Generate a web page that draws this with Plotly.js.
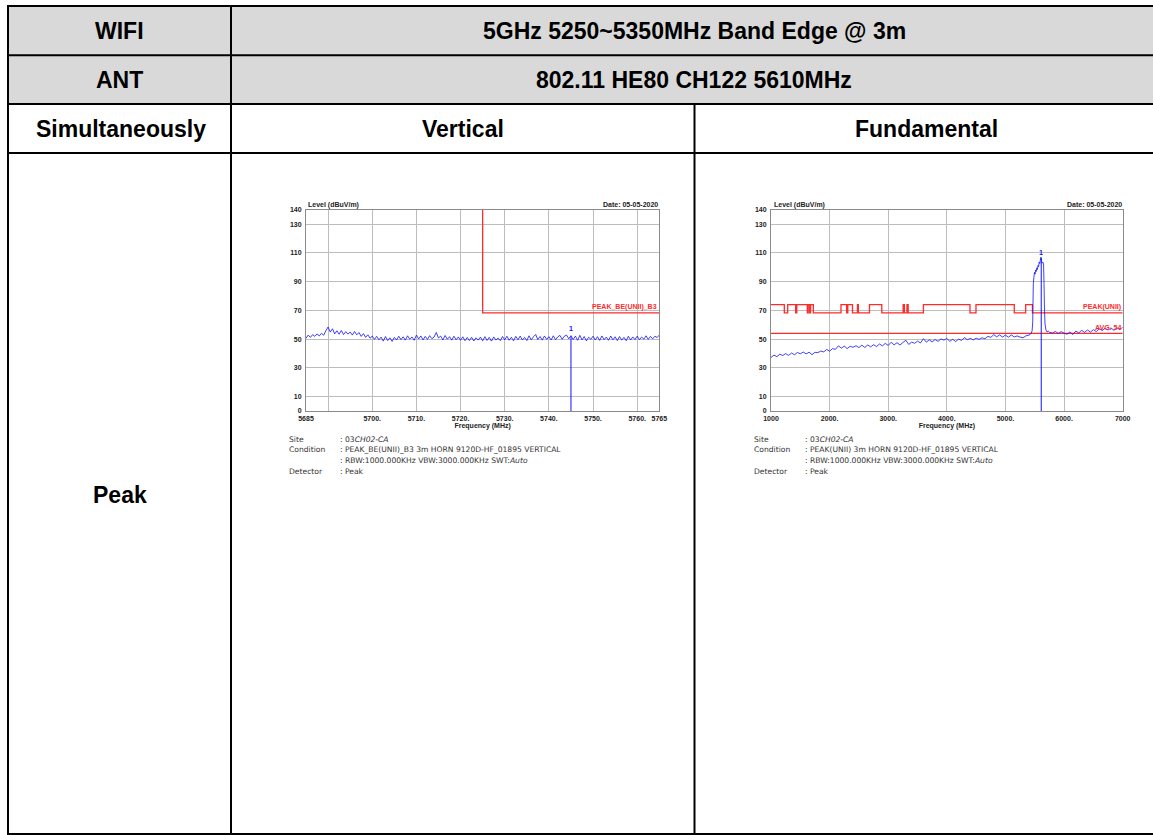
<!DOCTYPE html>
<html>
<head>
<meta charset="utf-8">
<script src="https://cdn.plot.ly/plotly-3.0.1.min.js"></script>
<style>
html,body{margin:0;padding:0;background:#fff;}
#chart{width:1153px;height:835px;}
</style>
</head>
<body>
<div id="chart"></div>
<script>
// ---------------- DATA ----------------
// Table texts
const headerRow1 = ["WIFI", "5GHz 5250~5350MHz Band Edge @ 3m"];
const headerRow2 = ["ANT", "802.11 HE80 CH122 5610MHz"];
const headerRow3 = ["Simultaneously", "Vertical", "Fundamental"];
const rowLabel = "Peak";

// Left plot (band edge sweep, 5685-5765 MHz, 0.5 MHz sweep points)
const leftStartFreq = 5685;
const leftStepFreq = 0.5;
const leftLevel = [
  50.6, 52.8, 51.2, 53.1, 51.9, 53.6, 52.2, 54.0, 52.7, 55.8,
  58.4, 54.9, 57.2, 53.6, 55.8, 53.4, 56.0, 53.1, 55.2, 53.5,
  54.9, 52.8, 55.3, 53.0, 54.6, 51.9, 53.8, 51.2, 53.0, 50.6,
  52.1, 49.8, 51.9, 49.6, 51.4, 48.6, 51.8, 49.0, 50.9, 48.4,
  51.2, 49.4, 52.0, 49.7, 51.6, 49.3, 52.3, 50.0, 51.5, 49.2,
  52.8, 50.1, 52.2, 49.5, 51.9, 49.8, 52.4, 50.3, 51.4, 54.6,
  50.8, 52.1, 49.4, 52.5, 49.9, 51.7, 49.3, 52.0, 49.6, 51.5,
  49.2, 51.6, 48.9, 51.1, 49.0, 51.3, 48.7, 50.9, 49.3, 51.4,
  48.8, 51.7, 49.1, 51.2, 48.6, 51.5, 49.4, 50.7, 48.9, 51.8,
  49.5, 52.0, 49.2, 51.3, 48.8, 51.9, 49.6, 52.1, 49.4, 51.2,
  49.0, 52.3, 49.5, 51.6, 53.2, 49.7, 51.8, 49.3, 52.2, 49.8,
  51.7, 49.4, 52.3, 49.6, 51.5, 52.6, 49.9, 52.0, 52.8, 50.2,
  52.4, 49.7, 52.1, 49.2, 52.6, 49.5, 51.8, 48.8, 51.3, 49.9,
  52.0, 49.4, 51.7, 49.1, 52.2, 49.6, 51.4, 49.2, 52.1, 49.5,
  51.6, 49.0, 51.8, 49.3, 51.2, 48.9, 52.0, 49.4, 51.5, 49.7,
  52.1, 49.6, 51.4, 50.0, 52.3, 49.8, 51.9, 50.2, 52.0, 51.1,
  52.8
];
const leftLimitFreq = [5725, 5725, 5765];
const leftLimitLevel = [140, 68.2, 68.2];
const leftMarkerFreq = [5745, 5745];
const leftMarkerLevel = [0, 51.8];
const leftTickVals = [5685, 5690, 5700, 5710, 5720, 5730, 5740, 5750, 5760, 5765];
const leftTickText = ["5685", "", "5700.", "5710.", "5720.", "5730.", "5740.", "5750.", "5760.", "5765"];

// Right plot (fundamental sweep, 1000-7000 MHz)
const rightLowStart = 1000, rightLowStep = 50;
const rightLowLevel = [
  37.2, 38.9, 37.8, 39.5, 38.6, 39.9, 38.7, 40.3, 39.1, 40.7,
  39.8, 41.0, 39.7, 40.9, 39.2, 40.8, 40.6, 41.7, 41.1, 42.8,
  41.6, 43.4, 42.9, 45.3, 43.7, 45.1, 43.4, 45.0, 44.3, 45.4,
  44.1, 45.8, 44.2, 45.9, 44.6, 46.1, 44.8, 46.6, 45.3, 47.0,
  45.6, 47.8, 46.0, 47.5, 45.9, 47.6, 49.2, 46.3, 47.9, 47.1,
  48.6, 47.3, 50.3, 47.9, 49.5, 48.1, 49.7, 48.4, 50.1, 49.3,
  50.4, 48.5, 49.9, 48.3, 50.0, 49.1, 51.0, 49.6, 50.5, 49.5,
  50.6, 49.8, 50.9, 50.3, 51.9, 51.2, 53.1, 51.6, 52.9, 51.4,
  52.8, 51.3, 52.9, 51.5, 52.2, 51.4, 50.9, 52.3, 52.8
];
const rightPeakFreq = [5420, 5440, 5455, 5465, 5475, 5485, 5495, 5505, 5515, 5525,
  5535, 5545, 5555, 5565, 5575, 5585, 5595, 5605, 5612, 5620,
  5630, 5640, 5650, 5658, 5666, 5675, 5690, 5710, 5730];
const rightPeakLevel = [53.2, 54.1, 55.8, 62.0, 88.5, 93.0, 96.4, 95.2, 98.1, 97.0,
  99.6, 98.4, 101.2, 100.3, 103.5, 102.6, 104.8, 106.9, 105.2, 103.6,
  102.8, 103.4, 102.5, 88.0, 70.0, 60.5, 56.4, 54.9, 55.6];
const rightHighStart = 5750, rightHighStep = 50;
const rightHighLevel = [
  54.8, 54.2, 55.3, 54.0, 55.2, 54.1, 53.4, 55.0, 53.2, 55.6,
  54.3, 56.1, 54.7, 56.3, 54.9, 56.6, 55.2, 57.4, 55.9, 57.6,
  56.3, 57.8, 56.1, 57.9, 56.6, 58.2
];
const rightLimitFreq = [1000, 1227, 1285, 1421, 1440, 1620, 1635, 1660, 1675, 1722,
  2194, 2290, 2310, 2390, 2475, 2490, 2680, 2890, 3255, 3275,
  3320, 3340, 3600, 4395, 4497, 5150, 5345, 5460, 7000];
const rightLimitLevel = [74, 68.2, 74, 68.2, 74, 68.2, 74, 68.2, 74, 68.2,
  74, 68.2, 74, 68.2, 74, 68.2, 74, 68.2, 74, 68.2,
  74, 68.2, 74, 68.2, 74, 68.2, 74, 68.2, 68.2];
const avgLimitFreq = [1000, 7000];
const avgLimitLevel = [54, 54];
const rightMarkerFreq = [5610, 5610];
const rightMarkerLevel = [0, 106.5];
const rightTickVals = [1000, 2000, 3000, 4000, 5000, 6000, 7000];
const rightTickText = ["1000", "2000.", "3000.", "4000.", "5000.", "6000.", "7000"];

const yTickVals = [0, 10, 30, 50, 70, 90, 110, 130, 140];
const yTickText = ["0", "10", "30", "50", "70", "90", "110", "130", "140"];

const infoLabels = ["Site", "Condition", "", "Detector"];
const leftInfo = [": 03<i>CH02-CA</i>", ": PEAK_BE(UNII)_B3 3m HORN 9120D-HF_01895 VERTICAL",
  ": RBW:1000.000KHz VBW:3000.000KHz SWT:<i>Auto</i>", ": Peak"];
const rightInfo = [": 03<i>CH02-CA</i>", ": PEAK(UNII) 3m HORN 9120D-HF_01895 VERTICAL",
  ": RBW:1000.000KHz VBW:3000.000KHz SWT:<i>Auto</i>", ": Peak"];

// ---------------- BUILD ----------------
const W = 1153, H = 835;
const px = x => x / W;
const py = y => 1 - y / H;

const leftFreq = leftLevel.map((_, i) => leftStartFreq + i * leftStepFreq);
const rightFreq = rightLowLevel.map((_, i) => rightLowStart + i * rightLowStep)
  .concat(rightPeakFreq)
  .concat(rightHighLevel.map((_, i) => rightHighStart + i * rightHighStep));
const rightLevel = rightLowLevel.concat(rightPeakLevel).concat(rightHighLevel);

const BLUE = "#1010ff", RED = "#ff2a2a";
const FONT = "Liberation Sans, Arial, sans-serif";

const traces = [
  {x: leftLimitFreq, y: leftLimitLevel, xaxis: "x", yaxis: "y", mode: "lines", line: {color: RED, width: 1.3}},
  {x: leftFreq, y: leftLevel, xaxis: "x", yaxis: "y", mode: "lines", line: {color: BLUE, width: 0.8, simplify: false}},
  {x: leftMarkerFreq, y: leftMarkerLevel, xaxis: "x", yaxis: "y", mode: "lines", line: {color: BLUE, width: 1}},
  {x: rightLimitFreq, y: rightLimitLevel, xaxis: "x2", yaxis: "y2", mode: "lines", line: {color: RED, width: 1.3, shape: "hv", simplify: false}},
  {x: avgLimitFreq, y: avgLimitLevel, xaxis: "x2", yaxis: "y2", mode: "lines", line: {color: RED, width: 1.3}},
  {x: rightFreq, y: rightLevel, xaxis: "x2", yaxis: "y2", mode: "lines", line: {color: BLUE, width: 0.8, simplify: false}},
  {x: rightMarkerFreq, y: rightMarkerLevel, xaxis: "x2", yaxis: "y2", mode: "lines", line: {color: BLUE, width: 1}}
];

function xAxis(dom, range, vals, text, anchor) {
  return {
    domain: dom, range: range, anchor: anchor, tickmode: "array", tickvals: vals, ticktext: text,
    tickangle: 0, ticks: "", showgrid: true, gridcolor: "#bdbdbd", gridwidth: 1,
    showline: true, linecolor: "#8a8a8a", linewidth: 1, mirror: true, zeroline: false,
    tickfont: {family: FONT, size: 7, color: "#222", weight: "bold"}, ticklabelstandoff: 1,
    title: {text: "Frequency (MHz)", font: {family: FONT, size: 7, color: "#222", weight: "bold"}, standoff: 1}
  };
}
function yAxis(dom, anchor) {
  return {
    domain: dom, range: [0, 140], anchor: anchor, tickmode: "array", tickvals: yTickVals, ticktext: yTickText,
    ticks: "", showgrid: true, gridcolor: "#bdbdbd", gridwidth: 1,
    showline: true, linecolor: "#8a8a8a", linewidth: 1, mirror: true, zeroline: false,
    tickfont: {family: FONT, size: 7, color: "#222", weight: "bold"}, ticklabelstandoff: 2
  };
}

const yDom = [py(411), py(209.7)];
const layout = {
  width: W, height: H, autosize: false, margin: {l: 0, r: 0, t: 0, b: 0},
  paper_bgcolor: "#fff", plot_bgcolor: "#fff", showlegend: false,
  xaxis: xAxis([px(306), px(659.3)], [5685, 5765], leftTickVals, leftTickText, "y"),
  yaxis: yAxis(yDom, "x"),
  xaxis2: xAxis([px(771), px(1122.7)], [1000, 7000], rightTickVals, rightTickText, "y2"),
  yaxis2: yAxis(yDom, "x2"),
  shapes: [],
  annotations: []
};

// table background + lines
const sh = layout.shapes;
sh.push({type: "rect", xref: "paper", yref: "paper", x0: px(8), x1: px(1153), y0: py(104), y1: py(6),
  fillcolor: "#d9d9d9", line: {width: 0}, layer: "below"});
function hLine(y, x0, x1) { sh.push({type: "line", xref: "paper", yref: "paper", x0: px(x0), x1: px(x1), y0: py(y), y1: py(y), line: {color: "#000", width: 2}}); }
function vLine(x, y0, y1) { sh.push({type: "line", xref: "paper", yref: "paper", x0: px(x), x1: px(x), y0: py(y0), y1: py(y1), line: {color: "#000", width: 2}}); }
hLine(6, 7, 1153); hLine(55.3, 7, 1153); hLine(104, 7, 1153); hLine(153, 7, 1153); hLine(834, 7, 1153);
vLine(8, 5, 835); vLine(231, 5, 835); vLine(694.5, 104, 835);

const an = layout.annotations;
function tableText(t, x, y) {
  an.push({text: t, xref: "paper", yref: "paper", x: px(x), y: py(y), xanchor: "center", yanchor: "middle",
    showarrow: false, font: {family: FONT, size: 23, color: "#000", weight: "bold"}});
}
tableText(headerRow1[0], 119.5, 31); tableText(headerRow1[1], 694, 31);
tableText(headerRow2[0], 119.5, 80); tableText(headerRow2[1], 694, 80);
tableText(headerRow3[0], 120.5, 129); tableText(headerRow3[1], 463, 129); tableText(headerRow3[2], 926, 129);
tableText(rowLabel, 119.5, 495);

function smallText(t, x, y, anchor, color) {
  an.push({text: t, xref: "paper", yref: "paper", x: px(x), y: py(y), xanchor: anchor, yanchor: "middle",
    showarrow: false, font: {family: FONT, size: 7, color: color || "#222", weight: "bold"}});
}
smallText("Level (dBuV/m)", 306.5, 205.5, "left");
smallText("Date: 05-05-2020", 660, 204.5, "right");
smallText("Level (dBuV/m)", 771.5, 205.5, "left");
smallText("Date: 05-05-2020", 1124, 204.5, "right");

function dataText(t, xr, yr, x, y, xanchor, color) {
  an.push({text: t, xref: xr, yref: yr, x: x, y: y, xanchor: xanchor, yanchor: "bottom", yshift: 0,
    showarrow: false, font: {family: FONT, size: 7, color: color, weight: "bold"}});
}
dataText("PEAK_BE(UNII)_B3", "x", "y", 5765, leftLimitLevel[2], "right", RED);
dataText("1", "x", "y", leftMarkerFreq[0], leftMarkerLevel[1] + 1.5, "center", BLUE);
dataText("PEAK(UNII)", "x2", "y2", 7000, 68.2, "right", RED);
dataText("AVG. 54", "x2", "y2", 7000, avgLimitLevel[0], "right", RED);
dataText("1", "x2", "y2", rightMarkerFreq[0], rightMarkerLevel[1], "center", BLUE);

const infoY = [439, 449.5, 460, 472];
function infoText(t, x, y) {
  an.push({text: t, xref: "paper", yref: "paper", x: px(x), y: py(y), xanchor: "left", yanchor: "middle",
    showarrow: false, font: {family: "DejaVu Sans, sans-serif", size: 7.6, color: "#333"}});
}
infoLabels.forEach((l, i) => { if (l) { infoText(l, 287, infoY[i]); infoText(l, 752, infoY[i]); } });
leftInfo.forEach((t, i) => infoText(t, 338, infoY[i]));
rightInfo.forEach((t, i) => infoText(t, 803, infoY[i]));

Plotly.newPlot("chart", traces, layout, {staticPlot: true, displayModeBar: false});
</script>
</body>
</html>
